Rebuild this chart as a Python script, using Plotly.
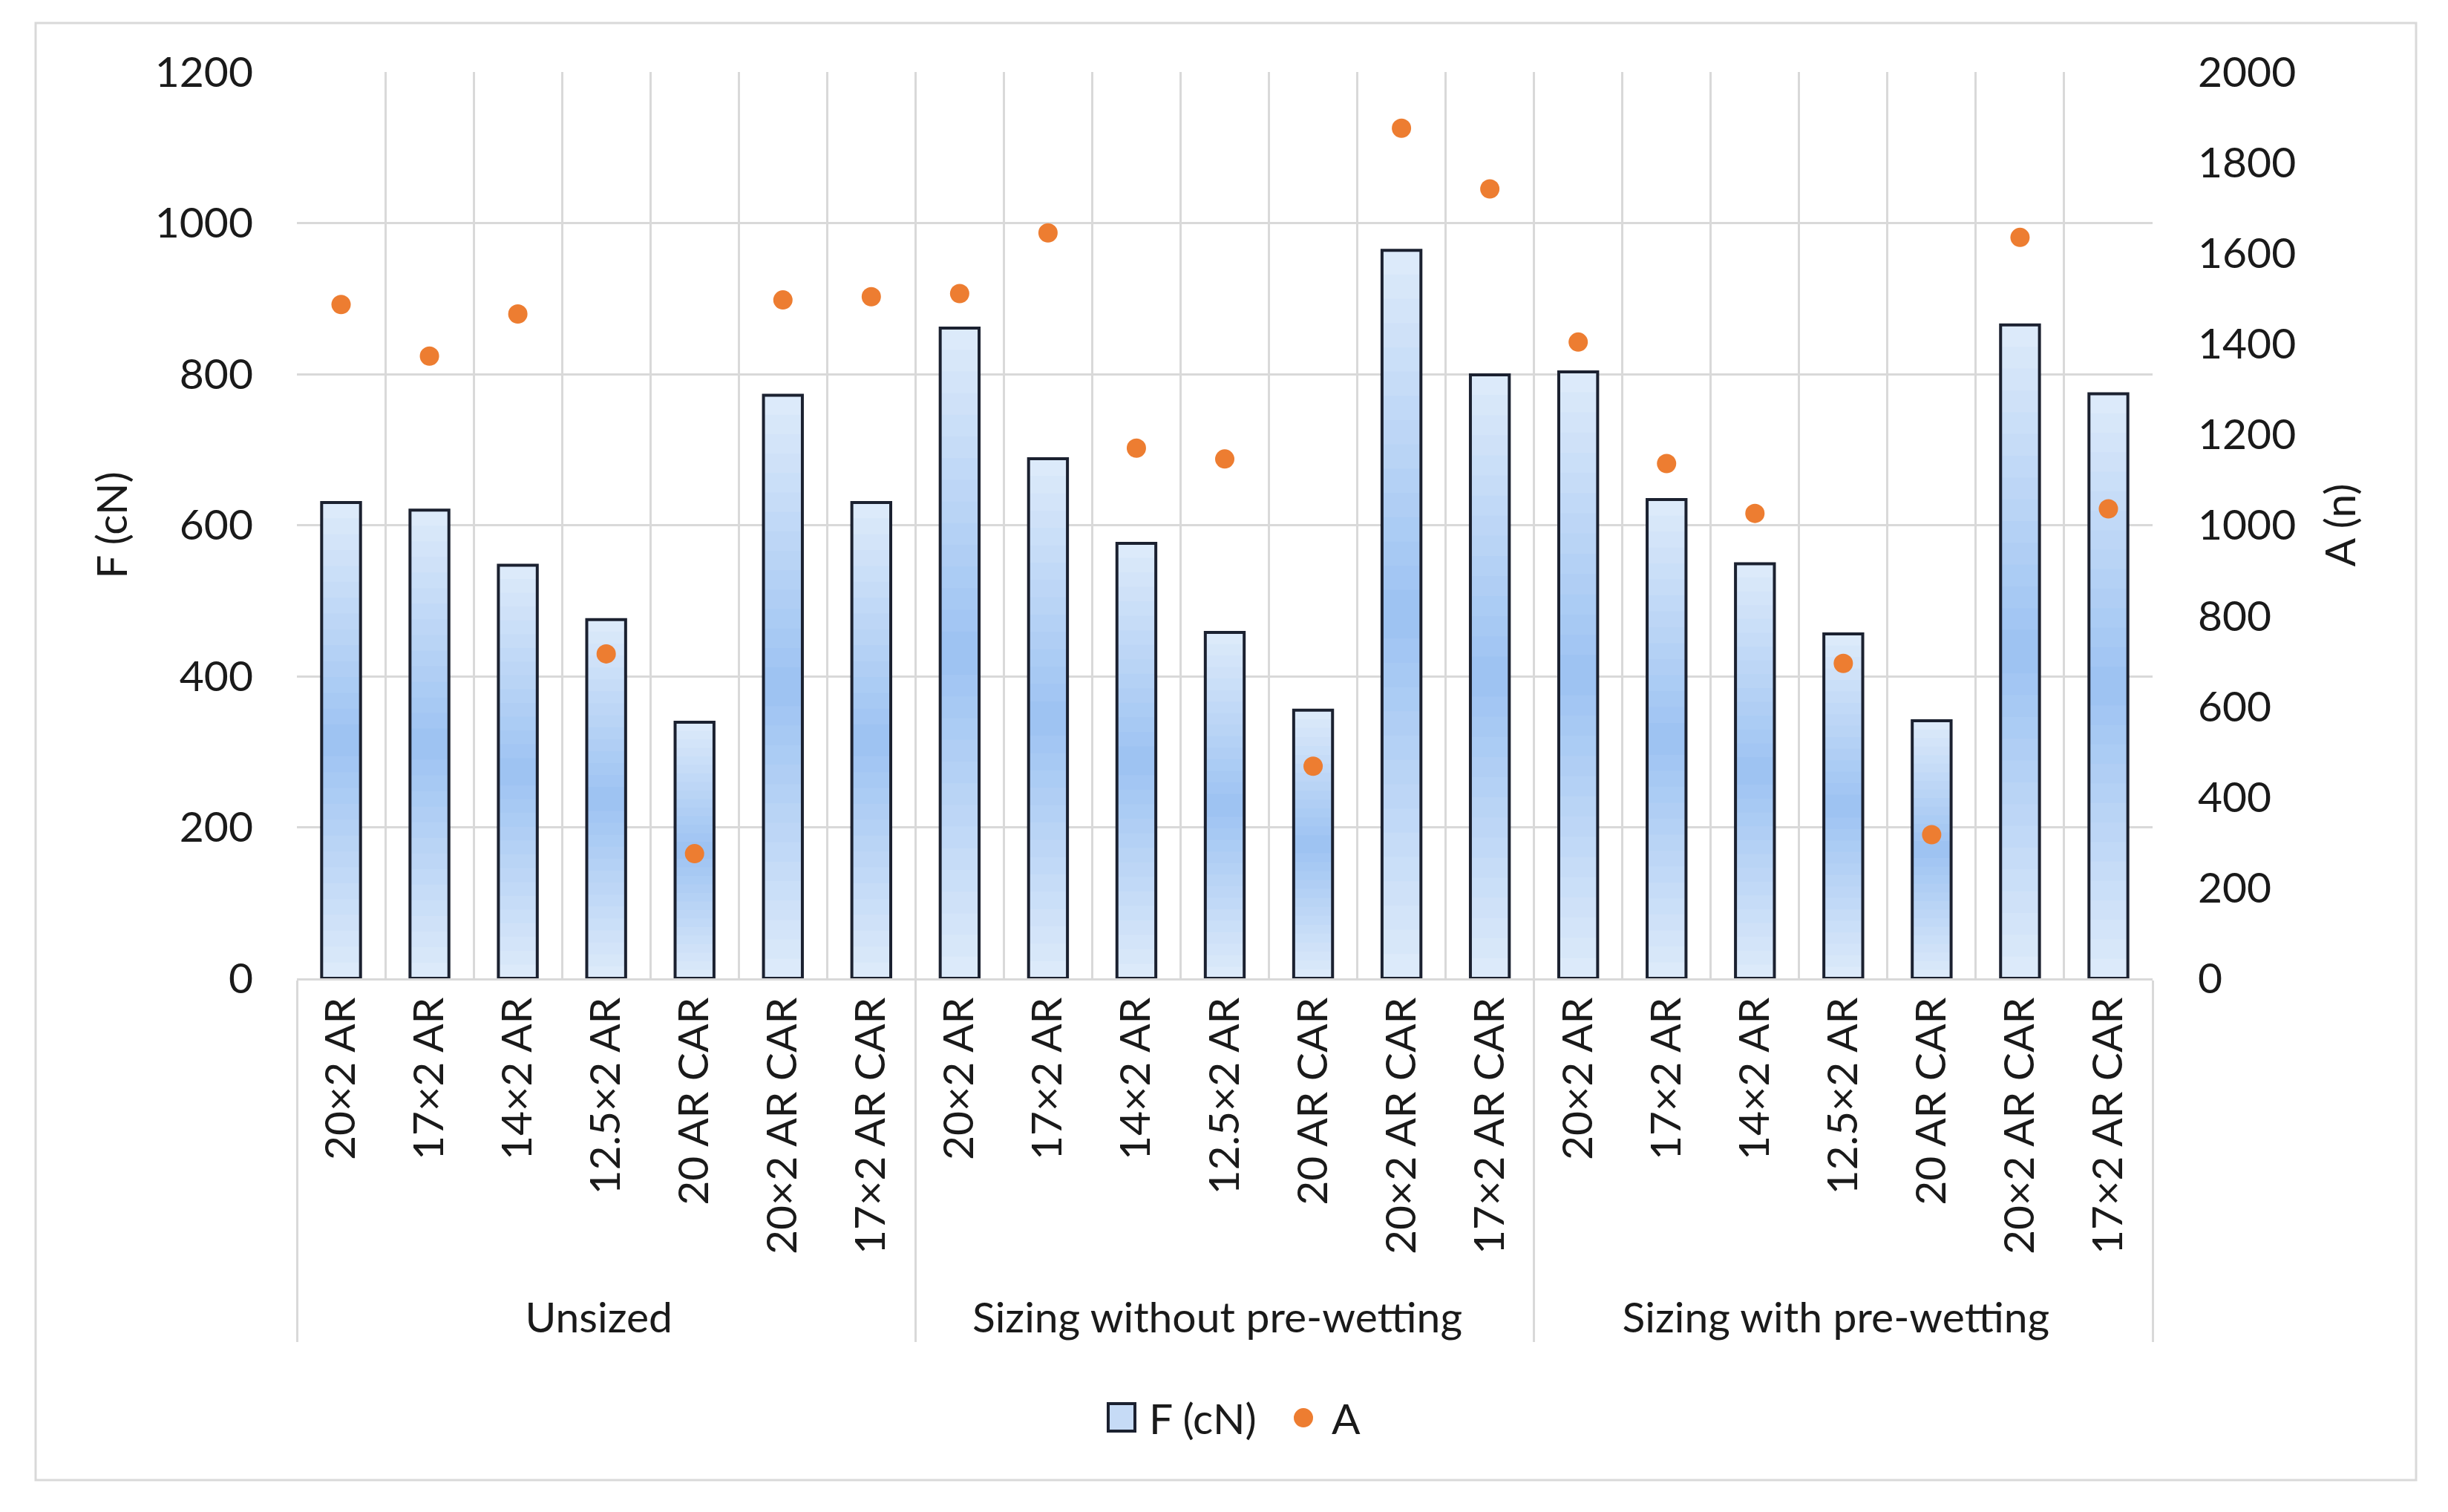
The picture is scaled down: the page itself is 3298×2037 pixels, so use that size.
import plotly.graph_objects as go

groups = ["Unsized"] * 7 + ["Sizing without pre-wetting"] * 7 + ["Sizing with pre-wetting"] * 7
samples = ["20×2 AR", "17×2 AR", "14×2 AR", "12.5×2 AR", "20 AR CAR", "20×2 AR CAR", "17×2 AR CAR"] * 3

force_cn = [630, 620, 547, 475, 339, 772, 630,
            861, 688, 576, 458, 355, 964, 799,
            803, 634, 549, 456, 341, 865, 774]

abrasion_n = [1487, 1373, 1466, 716, 275, 1497, 1504,
              1511, 1645, 1170, 1146, 468, 1876, 1742,
              1404, 1136, 1026, 695, 317, 1635, 1036]

FONT = "Lato"
FS = 57
GRID = "#D9D9D9"
OUTLINE = "#1B2130"
ORANGE = "#ED7D31"
EDGE_RGB = (222, 235, 250)
MID_RGB = (156, 194, 242)
N_BANDS = 30


def band_color(i):
    # i counts from bottom; light at both ends, deeper blue in the middle
    t = abs((i + 0.5) - N_BANDS / 2) / (N_BANDS / 2)
    c = [round(m + (e - m) * t) for m, e in zip(MID_RGB, EDGE_RGB)]
    return f"rgb({c[0]},{c[1]},{c[2]})"


x = [groups, samples]
fig = go.Figure()

# gradient bars: full-height bar first, then progressively shorter ones on top
for k in range(N_BANDS):
    frac = (N_BANDS - k) / N_BANDS
    fig.add_trace(go.Bar(
        x=x,
        y=[v * frac for v in force_cn],
        base=0,
        name="F (cN)",
        marker=dict(color=band_color(N_BANDS - 1 - k), line=dict(width=0)),
        showlegend=False,
        hoverinfo="skip" if k else None,
    ))

# outline on top
fig.add_trace(go.Bar(
    x=x, y=force_cn, base=0,
    marker=dict(color="rgba(0,0,0,0)", line=dict(color=OUTLINE, width=4)),
    showlegend=False, hoverinfo="skip",
))

fig.add_trace(go.Scatter(
    x=x, y=abrasion_n, name="A", mode="markers", yaxis="y2",
    marker=dict(color=ORANGE, size=26), showlegend=False,
))

# legend drawn by hand so the keys can be as large as in the original
legend_shapes = [
    dict(type="rect", xref="paper", yref="paper",
         x0=0.4372, x1=0.4516, y0=-0.4996, y1=-0.4693,
         fillcolor="#C6DBF6", line=dict(color=OUTLINE, width=4)),
    dict(type="circle", xref="paper", yref="paper",
         x0=0.5372, x1=0.5476, y0=-0.4955, y1=-0.4743,
         fillcolor=ORANGE, line=dict(width=0)),
]
legend_labels = [
    dict(text="F (cN)", x=0.4584, y=-0.4849),
    dict(text="A", x=0.5568, y=-0.4849),
]

fig.update_layout(
    width=3298, height=2037,
    margin=dict(l=392, r=406, t=89, b=727),
    paper_bgcolor="white", plot_bgcolor="white",
    barmode="overlay", bargap=0.56,
    font=dict(family=FONT, size=FS, color="#1a1a1a"),
    showlegend=False,
    xaxis=dict(
        type="multicategory", tickangle=-90, range=[-0.5, 20.5],
        showgrid=True, gridcolor=GRID, gridwidth=3,
        showline=True, linecolor=GRID, linewidth=3,
        dividercolor=GRID, dividerwidth=3,
        ticks="", tickfont=dict(size=FS),
    ),
    yaxis=dict(
        range=[0, 1200], dtick=200,
        showgrid=True, gridcolor=GRID, gridwidth=3,
        zeroline=False, ticks="", ticklabelstandoff=58,
        title=dict(text="F (cN)", standoff=18, font=dict(size=FS)),
    ),
    yaxis2=dict(
        range=[0, 2000], dtick=200, overlaying="y", side="right",
        showgrid=False, zeroline=False, ticks="", ticklabelstandoff=60,
        title=dict(text="A (n)", standoff=40, font=dict(size=FS)),
    ),
    shapes=[dict(type="rect", xref="paper", yref="paper",
                 x0=-0.1408, x1=1.142, y0=-0.5537, y1=1.054,
                 line=dict(color=GRID, width=3), layer="below")] + legend_shapes,
    annotations=[dict(xref="paper", yref="paper", xanchor="left", yanchor="middle",
                      showarrow=False, font=dict(size=FS), **a) for a in legend_labels],
)

fig.write_html("out.html")
